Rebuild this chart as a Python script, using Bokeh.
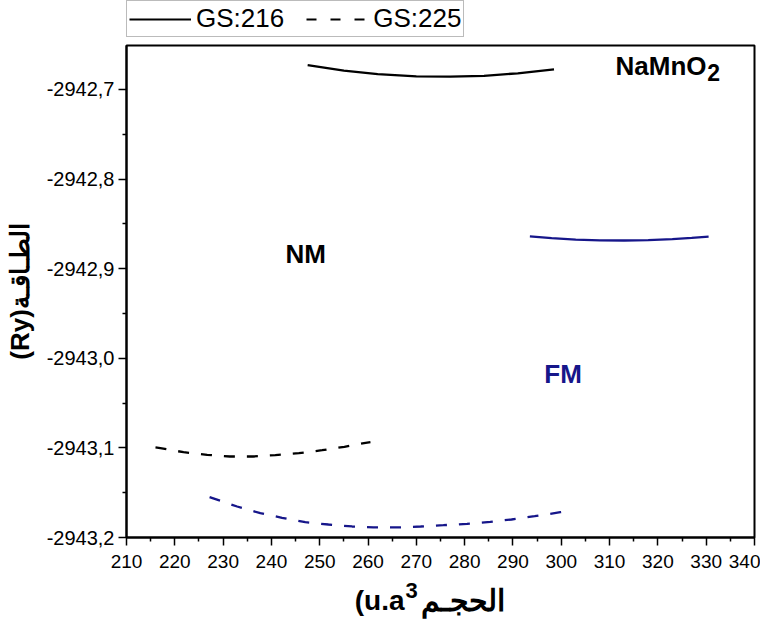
from bokeh.plotting import figure
from bokeh.models import (Legend, LegendItem, FixedTicker, CustomJSTickFormatter,
                          Label, Range1d)
from bokeh.layouts import column
from bokeh.embed import file_html
from bokeh.resources import INLINE

# ---- data ----
nm216_vol = [247.5, 255.0, 262.0, 270.0, 277.0, 284.0, 291.0, 298.5]
nm216_e = [-2942.6730, -2942.6790, -2942.6830, -2942.6855, -2942.6858,
           -2942.6848, -2942.6820, -2942.6777]

fm216_vol = [293.5, 298.0, 303.0, 308.0, 313.0, 318.0, 323.0, 327.0, 330.5]
fm216_e = [-2942.8640, -2942.8660, -2942.8676, -2942.8684, -2942.8686,
           -2942.8682, -2942.8670, -2942.8657, -2942.8642]

nm225_vol = [216.0, 217.0, 221.8, 226.7, 231.4, 236.2, 240.8, 245.7, 250.5,
             255.1, 259.5, 260.5]
nm225_e = [-2943.0995, -2943.1003, -2943.1048, -2943.1077, -2943.1096,
           -2943.1096, -2943.1081, -2943.1059, -2943.1026, -2943.0988,
           -2943.0943, -2943.0935]

fm225_vol = [227.2, 232.9, 237.7, 242.2, 247.0, 251.8, 256.7, 261.1, 266.0,
             270.9, 275.6, 280.5, 285.3, 289.7, 294.5, 299.8, 300.9]
fm225_e = [-2943.1550, -2943.1654, -2943.1729, -2943.1780, -2943.1829,
           -2943.1855, -2943.1877, -2943.1888, -2943.1888, -2943.1877,
           -2943.1863, -2943.1847, -2943.1825, -2943.1799, -2943.1762,
           -2943.1718, -2943.1710]

x_ticks = list(range(210, 341, 10))
y_ticks = [-2943.2, -2943.1, -2943.0, -2942.9, -2942.8, -2942.7]
legend_labels = ["GS:216", "GS:225"]

NAVY = "#16168a"
FONT = "Liberation Sans"
DASH = "11 12"

# ---------------- main plot ----------------
p = figure(width=760, height=536, output_backend="svg", toolbar_location=None,
           x_range=Range1d(210, 340), y_range=Range1d(-2943.2, -2942.651),
           min_border_left=126, min_border_right=6, min_border_top=1,
           min_border_bottom=43)
p.background_fill_color = "white"
p.border_fill_color = "white"
p.outline_line_color = "black"
p.outline_line_width = 2
p.xgrid.visible = False
p.ygrid.visible = False

p.line(nm216_vol, nm216_e, line_color="black", line_width=2.3)
p.line(fm216_vol, fm216_e, line_color=NAVY, line_width=2.3)
p.line(nm225_vol, nm225_e, line_color="black", line_width=2.3, line_dash=DASH)
p.line(fm225_vol, fm225_e, line_color=NAVY, line_width=2.3, line_dash=DASH)

for ax in (p.xaxis[0], p.yaxis[0]):
    ax.axis_line_width = 2
    ax.major_tick_line_width = 1.5
    ax.minor_tick_line_width = 1.5
    ax.major_tick_out = 8
    ax.major_tick_in = 0
    ax.minor_tick_out = 4
    ax.minor_tick_in = 0
    ax.major_label_text_font = FONT
    ax.major_label_text_color = "black"
    ax.axis_label_text_font = FONT
    ax.axis_label_text_font_style = "bold"
    ax.axis_label_text_font_size = "26px"
    ax.axis_label_text_color = "black"

p.xaxis[0].major_label_text_font_size = "19px"
p.yaxis[0].major_label_text_font_size = "20px"
p.xaxis[0].ticker = FixedTicker(ticks=x_ticks,
                                minor_ticks=[t + 5 for t in x_ticks[:-1]])
p.yaxis[0].ticker = FixedTicker(ticks=y_ticks,
                                minor_ticks=[t + 0.05 for t in y_ticks[:-1]])
p.yaxis[0].formatter = CustomJSTickFormatter(
    code="return tick.toFixed(1).replace('.', ',');")
p.xaxis[0].major_label_standoff = 9
p.yaxis[0].major_label_standoff = 4

p.yaxis[0].axis_label = "(Ry)الطـاقـة"
p.yaxis[0].axis_label_standoff = 9

# annotations inside the frame
p.add_layout(Label(x=242.9, y=-2942.884, text="NM", text_font=FONT,
                   text_font_style="bold", text_font_size="26px",
                   text_color="black", text_baseline="alphabetic"))
p.add_layout(Label(x=296.5, y=-2943.017, text="FM", text_font=FONT,
                   text_font_style="bold", text_font_size="26px",
                   text_color=NAVY, text_baseline="alphabetic"))
p.add_layout(Label(x=330.06, y=-2942.6735, text="NaMnO", text_align="right",
                   text_font=FONT, text_font_style="bold", text_font_size="26px",
                   text_color="black", text_baseline="alphabetic"))
p.add_layout(Label(x=330.2, y=-2942.6812, text="2", text_align="left",
                   text_font=FONT, text_font_style="bold", text_font_size="23px",
                   text_color="black", text_baseline="alphabetic"))

# ---------------- legend strip above the plot ----------------
# (in a column, the strip's frame is aligned with the main frame: x 126..754)
lg = figure(width=760, height=44, output_backend="svg", toolbar_location=None,
            x_range=Range1d(0, 1), y_range=Range1d(0, 1),
            x_axis_location=None, y_axis_location=None,
            min_border_left=0, min_border_right=0, min_border_top=0,
            min_border_bottom=0)
lg.xgrid.visible = False
lg.ygrid.visible = False
lg.outline_line_color = None
lg.border_fill_color = "white"
# legend samples reuse the series (they fall outside this strip's ranges)
l1 = lg.line(nm216_vol, nm216_e, line_color="black", line_width=2)
l2 = lg.line(nm225_vol, nm225_e, line_color="black", line_width=2, line_dash="10 14")

legend = Legend(items=[LegendItem(label=legend_labels[0], renderers=[l1]),
                       LegendItem(label=legend_labels[1], renderers=[l2])],
                orientation="horizontal", location=(0, 7),
                margin=0, padding=2, spacing=22, label_standoff=5,
                glyph_width=62, glyph_height=26, label_height=26,
                label_text_font=FONT, label_text_font_size="26px",
                label_text_color="black",
                border_line_color="#777777", border_line_width=1.5,
                background_fill_alpha=1.0)
lg.add_layout(legend)

# ---------------- x-axis title strip below the plot ----------------
xt = figure(width=760, height=40, output_backend="svg", toolbar_location=None,
            x_range=Range1d(126, 754), y_range=Range1d(0, 40),
            x_axis_location=None, y_axis_location=None,
            min_border_left=0, min_border_right=0, min_border_top=0,
            min_border_bottom=0)
xt.xgrid.visible = False
xt.ygrid.visible = False
xt.outline_line_color = None
xt.border_fill_color = "white"
xt.add_layout(Label(x=404, y=20, text="(u.a", text_align="right",
                    text_baseline="alphabetic", text_font=FONT,
                    text_font_style="bold", text_font_size="28px",
                    text_color="black"))
xt.add_layout(Label(x=405, y=38, text="3", text_align="left",
                    text_baseline="top", text_font=FONT,
                    text_font_style="bold", text_font_size="22px",
                    text_color="black"))
xt.add_layout(Label(x=420, y=20, text="الحجـم", text_align="left",
                    text_baseline="alphabetic", text_font=FONT,
                    text_font_style="bold", text_font_size="30px",
                    text_color="black"))

layout = column(lg, p, xt, spacing=0)
open("out.html", "w").write(file_html(layout, INLINE))
